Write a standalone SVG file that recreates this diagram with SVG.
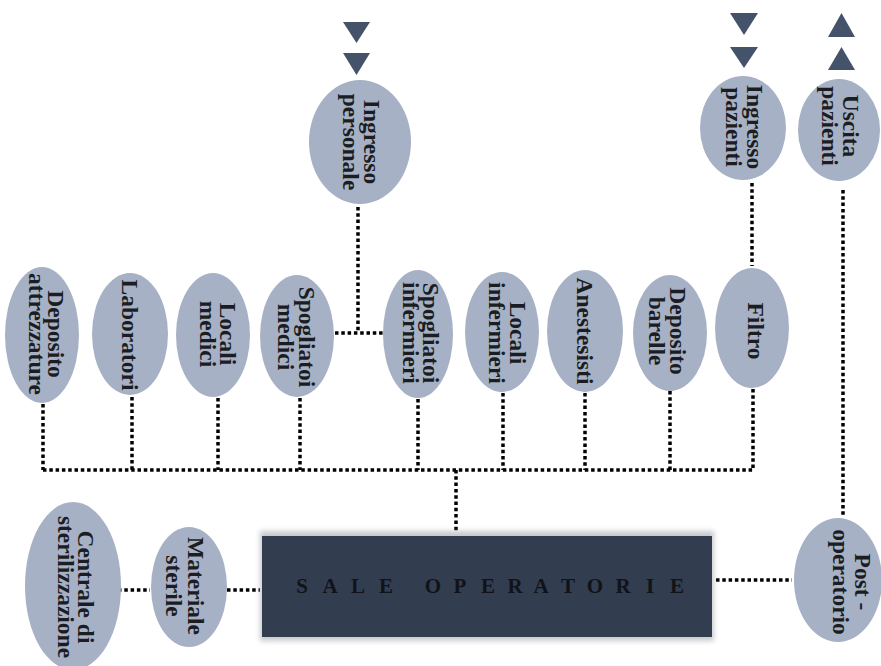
<svg xmlns="http://www.w3.org/2000/svg" width="881" height="666" viewBox="0 0 881 666">
  <defs>
    <style>
      .node { fill: #a7b1c5; }
      .lbl { font-family: "Liberation Serif", "DejaVu Serif", serif; font-weight: bold; font-size: 23.5px; fill: #1b1d22; text-anchor: middle; }
      .link { fill: none; stroke: #000; stroke-width: 3.5; stroke-dasharray: 3.5 2.8; }
      .arrow { fill: #44536a; }
      .room { fill: #323d50; }
      .roomtxt { font-family: "Liberation Serif", "DejaVu Serif", serif; font-weight: bold; font-size: 21px; fill: #111318; text-anchor: middle; }
    </style>
    <filter id="soft" x="-10%" y="-20%" width="120%" height="140%">
      <feGaussianBlur stdDeviation="2.5"/>
    </filter>
  </defs>
  <rect width="881" height="666" fill="#ffffff"/>

  <!-- dotted connectors -->
  <g id="connectors" class="link">
    <path d="M43 470 H753"/>
    <path d="M43 404 V470"/>
    <path d="M132 397 V470"/>
    <path d="M218 398 V470"/>
    <path d="M300 398 V470"/>
    <path d="M418 399 V470"/>
    <path d="M503 393 V470"/>
    <path d="M585 393 V470"/>
    <path d="M670 391 V470"/>
    <path d="M753 389 V470"/>
    <path d="M358 207 V333"/>
    <path d="M335 333 H383"/>
    <path d="M456 470 V533"/>
    <path d="M752 183 V266"/>
    <path d="M843 190 V516"/>
    <path d="M118 590 H150"/>
    <path d="M227 590 H260"/>
    <path d="M716 580 H792"/>
  </g>

  <!-- entry / exit arrows -->
  <g id="arrows" class="arrow">
    <polygon points="343,22 370,22 356.5,43"/>
    <polygon points="343,53 370,53 356.5,75"/>
    <polygon points="730,13 758,13 744,35"/>
    <polygon points="730,47 758,47 744,68"/>
    <polygon points="828,37 855,37 841.5,13"/>
    <polygon points="828,70 855,70 841.5,47"/>
  </g>

  <!-- operating theatres block -->
  <g id="sale-operatorie">
    <rect x="260" y="531" width="454" height="110" fill="#9a9ea6" opacity="0.55" filter="url(#soft)"/>
    <rect class="room" x="262" y="536" width="450" height="101"/>
    <text class="roomtxt" x="302 330 358 386 433 460 488 515 541 568 595 623 650 677" y="593">SALEOPERATORIE</text>
  </g>

  <!-- top row -->
  <g id="ingresso-personale">
    <ellipse class="node" cx="360" cy="142" rx="51" ry="62"/>
    <text class="lbl" transform="translate(364,142) rotate(90)"><tspan x="0" y="0">Ingresso</tspan><tspan x="0" y="21">personale</tspan></text>
  </g>
  <g id="ingresso-pazienti">
    <ellipse class="node" cx="743" cy="128" rx="43" ry="52"/>
    <text class="lbl" transform="translate(747,127) rotate(90)"><tspan x="0" y="0">Ingresso</tspan><tspan x="0" y="21">pazienti</tspan></text>
  </g>
  <g id="uscita-pazienti">
    <ellipse class="node" cx="839" cy="130" rx="41" ry="51"/>
    <text class="lbl" transform="translate(843,126) rotate(90)"><tspan x="0" y="0">Uscita</tspan><tspan x="0" y="21">pazienti</tspan></text>
  </g>

  <!-- middle row -->
  <g id="deposito-attrezzature">
    <ellipse class="node" cx="42" cy="335" rx="37" ry="68"/>
    <text class="lbl" transform="translate(48,334) rotate(90)"><tspan x="0" y="0">Deposito</tspan><tspan x="0" y="19">attrezzature</tspan></text>
  </g>
  <g id="laboratori">
    <ellipse class="node" cx="130" cy="334" rx="38" ry="61"/>
    <text class="lbl" transform="translate(122,335) rotate(90)"><tspan x="0" y="0">Laboratori</tspan></text>
  </g>
  <g id="locali-medici">
    <ellipse class="node" cx="213" cy="335" rx="37" ry="62"/>
    <text class="lbl" transform="translate(220,334) rotate(90)"><tspan x="0" y="0">Locali</tspan><tspan x="0" y="20">medici</tspan></text>
  </g>
  <g id="spogliatoi-medici">
    <ellipse class="node" cx="297" cy="336" rx="37" ry="61"/>
    <text class="lbl" transform="translate(299,337) rotate(90)"><tspan x="0" y="0">Spogliatoi</tspan><tspan x="0" y="21">medici</tspan></text>
  </g>
  <g id="spogliatoi-infermieri">
    <ellipse class="node" cx="418" cy="334" rx="35" ry="64"/>
    <text class="lbl" transform="translate(423,333) rotate(90)"><tspan x="0" y="0">Spogliatoi</tspan><tspan x="0" y="20">infermieri</tspan></text>
  </g>
  <g id="locali-infermieri">
    <ellipse class="node" cx="502" cy="332" rx="37" ry="60"/>
    <text class="lbl" transform="translate(510,333) rotate(90)"><tspan x="0" y="0">Locali</tspan><tspan x="0" y="21">infermieri</tspan></text>
  </g>
  <g id="anestesisti">
    <ellipse class="node" cx="585" cy="331" rx="38" ry="61"/>
    <text class="lbl" transform="translate(577,331) rotate(90)"><tspan x="0" y="0">Anestesisti</tspan></text>
  </g>
  <g id="deposito-barelle">
    <ellipse class="node" cx="670" cy="333" rx="37" ry="58"/>
    <text class="lbl" transform="translate(670,331) rotate(90)"><tspan x="0" y="0">Deposito</tspan><tspan x="0" y="21">barelle</tspan></text>
  </g>
  <g id="filtro">
    <ellipse class="node" cx="752" cy="328" rx="37" ry="60"/>
    <text class="lbl" transform="translate(748,331) rotate(90)"><tspan x="0" y="0">Filtro</tspan></text>
  </g>

  <!-- bottom row -->
  <g id="centrale-sterilizzazione">
    <ellipse class="node" cx="73" cy="586" rx="48" ry="84"/>
    <text class="lbl" transform="translate(78,587) rotate(90)"><tspan x="0" y="0">Centrale di</tspan><tspan x="0" y="20">sterilizzazione</tspan></text>
  </g>
  <g id="materiale-sterile">
    <ellipse class="node" cx="189" cy="587" rx="38" ry="60"/>
    <text class="lbl" transform="translate(188,586) rotate(90)"><tspan x="0" y="0">Materiale</tspan><tspan x="0" y="22">sterile</tspan></text>
  </g>
  <g id="post-operatorio">
    <ellipse class="node" cx="838" cy="580" rx="44" ry="62"/>
    <text class="lbl" transform="translate(855,582) rotate(90)"><tspan x="0" y="0">Post -</tspan><tspan x="0" y="22">operatorio</tspan></text>
  </g>
</svg>
